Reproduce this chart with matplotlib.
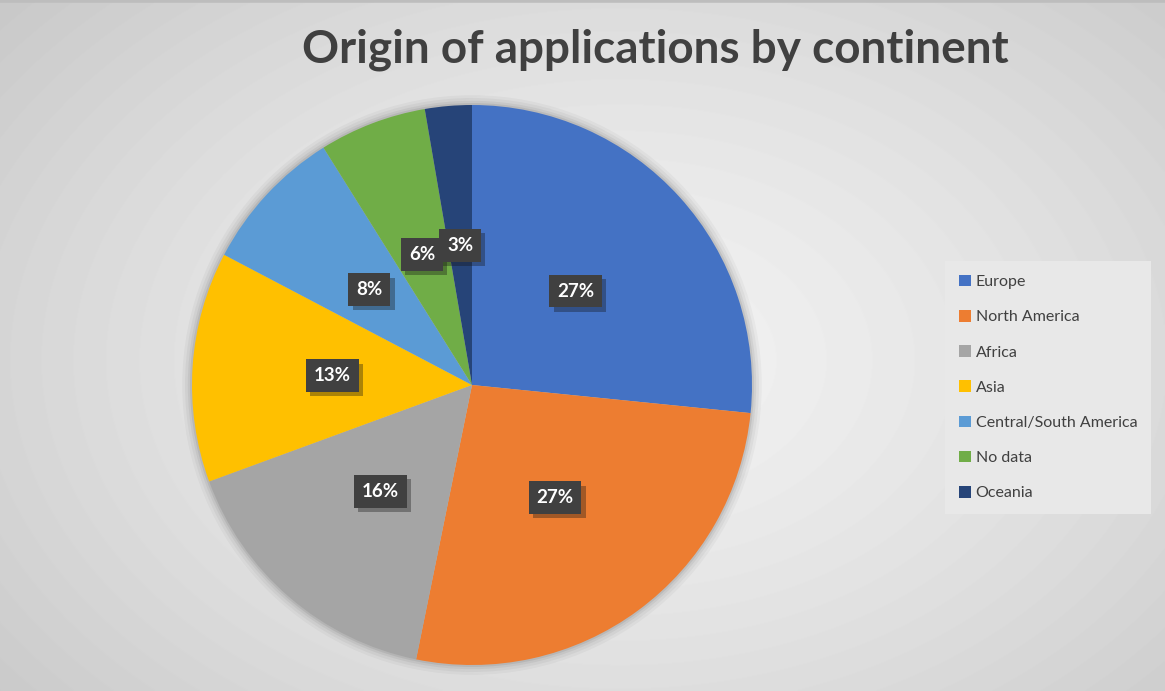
import numpy as np
import matplotlib
matplotlib.use("Agg")
import matplotlib.pyplot as plt
import matplotlib.patheffects as pe
from matplotlib.patches import Circle

# data (share of applications, %)
continents = ["Europe", "North America", "Africa", "Asia",
              "Central/South America", "No data", "Oceania"]
shares = [26.6, 26.6, 16.2, 13.3, 8.4, 6.2, 2.7]
colors = ["#4472C4", "#ED7D31", "#A5A5A5", "#FFC000",
          "#5B9BD5", "#70AD47", "#264478"]

plt.rcParams['font.family'] = ['Lato', 'DejaVu Sans']

fig = plt.figure(figsize=(11.65, 6.91), dpi=100)

# radial gradient background
bg = fig.add_axes([0, 0, 1, 1])
yy, xx = np.mgrid[0:691, 0:1165]
d = np.sqrt(((xx - 620) / 760.0) ** 2 + ((yy - 360) / 520.0) ** 2)
shade = np.clip(0.95 - 0.15 * d ** 1.4, 0.79, 0.95)
bg.imshow(shade, cmap="gray", vmin=0, vmax=1, aspect="auto",
          extent=[0, 1, 0, 1], origin="upper")
bg.axhline(1.0, color="#bdbdbd", lw=4)
bg.set_xlim(0, 1)
bg.set_ylim(0, 1)
bg.axis("off")

ax = fig.add_axes([192 / 1165, 26 / 691, 560 / 1165, 560 / 691])
# soft shadow around the pie
for r, a in [(1.035, 0.03), (1.025, 0.04), (1.015, 0.05), (1.007, 0.07)]:
    ax.add_patch(Circle((0, 0), r, facecolor="black", edgecolor="none",
                        alpha=a, zorder=0))
wedges, texts, autotexts = ax.pie(
    shares, colors=colors, startangle=90, counterclock=False,
    autopct=lambda p: "%d%%" % round(p), pctdistance=0.5,
    wedgeprops=dict(edgecolor="none", linewidth=0))
ax.set_xlim(-1.05, 1.05)
ax.set_ylim(-1.05, 1.05)
ax.set_aspect("equal")
ax.axis("off")
pos = [(472 - 294) / 1165, (691 - 385 - 294) / 691, 588 / 1165, 588 / 691]
ax.set_position(pos)

for t in autotexts:
    t.set_color("white")
    t.set_fontsize(13.5)
    t.set_fontweight("bold")
    t.set_bbox(dict(boxstyle="square,pad=0.42", facecolor="#404040",
                    edgecolor="none"))
    t.get_bbox_patch().set_path_effects(
        [pe.SimplePatchShadow(offset=(3, -3), alpha=0.35), pe.Normal()])

fig.text(655 / 1165, 1 - 50 / 691, "Origin of applications by continent",
         ha="center", va="center", fontsize=33, fontweight="bold",
         color="#404040")

leg = fig.legend(wedges, continents, loc="upper left",
                 bbox_to_anchor=(950 / 1165, 1 - 266 / 691),
                 frameon=True, fontsize=11.5, handlelength=0.75,
                 handleheight=0.75, handletextpad=0.3, labelspacing=1.3,
                 borderpad=0.55, borderaxespad=0)
leg.get_frame().set_facecolor("#e8e8e8")
leg.get_frame().set_edgecolor("none")
leg.get_frame().set_alpha(1)
leg.get_frame().set_boxstyle("square")
for h in leg.legend_handles:
    h.set_edgecolor("none")
for t in leg.get_texts():
    t.set_color("#404040")

fig.savefig("out.png", dpi=100)
